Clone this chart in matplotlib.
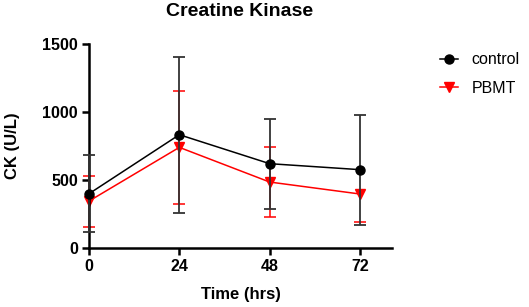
import numpy as np
import matplotlib
matplotlib.use("Agg")
import matplotlib.pyplot as plt
from matplotlib.lines import Line2D

plt.rcParams['font.family'] = ['Liberation Sans', 'DejaVu Sans']

time = [0, 24, 48, 72]
control_mean = [399, 833, 620, 576]
control_sd = [283, 575, 330, 405]
pbmt_mean = [345, 740, 485, 397]
pbmt_lower = [192, 414, 254, 208]
pbmt_upper = [183, 412, 257, np.nan]  # upper bar at 72 h not visible

fig = plt.figure(figsize=(5.29, 3.07), dpi=100)
ax = fig.add_axes([89 / 529, 1 - 248 / 307, 303 / 529, 204 / 307])

ax.errorbar(time, pbmt_mean, yerr=[pbmt_lower, pbmt_upper], color='#ff0000',
            marker='v', markersize=6.5, linewidth=1.1, elinewidth=1.1,
            capsize=4, capthick=1.1, zorder=2)
ax.errorbar(time, control_mean, yerr=control_sd, color='black',
            ecolor='#333333', marker='o', markersize=6.5, linewidth=1.1,
            elinewidth=1.3, capsize=4, capthick=1.3, zorder=3)

ax.set_xlim(0, 80.5)
ax.set_ylim(0, 1500)
ax.set_xticks(time)
ax.set_yticks([0, 500, 1000, 1500])
for s in ['top', 'right']:
    ax.spines[s].set_visible(False)
for s in ['left', 'bottom']:
    ax.spines[s].set_linewidth(1.8)
ax.tick_params(width=1.8, length=5, labelsize=11.5, pad=3)
for lbl in ax.get_xticklabels() + ax.get_yticklabels():
    lbl.set_fontweight('bold')
for c in ax.get_children():
    try:
        c.set_clip_on(False)
    except Exception:
        pass

ax.set_xlabel('Time (hrs)', fontsize=12, fontweight='bold', labelpad=9)
ax.set_ylabel('CK (U/L)', fontsize=12, fontweight='bold', labelpad=16)
fig.text(240 / 529, 1 - 3 / 307, 'Creatine Kinase', fontsize=14,
         fontweight='bold', ha='center', va='top')

handles = [Line2D([], [], color='black', marker='o', markersize=6.5, linewidth=1.1),
           Line2D([], [], color='#ff0000', marker='v', markersize=6.5, linewidth=1.1)]
fig.legend(handles, ['control', 'PBMT'], loc='upper left',
           bbox_to_anchor=(426 / 529, 1 - 38 / 307), frameon=False,
           fontsize=11.5, handlelength=1.1, labelspacing=0.85,
           handletextpad=0.85)

fig.savefig('out.png', dpi=100)
